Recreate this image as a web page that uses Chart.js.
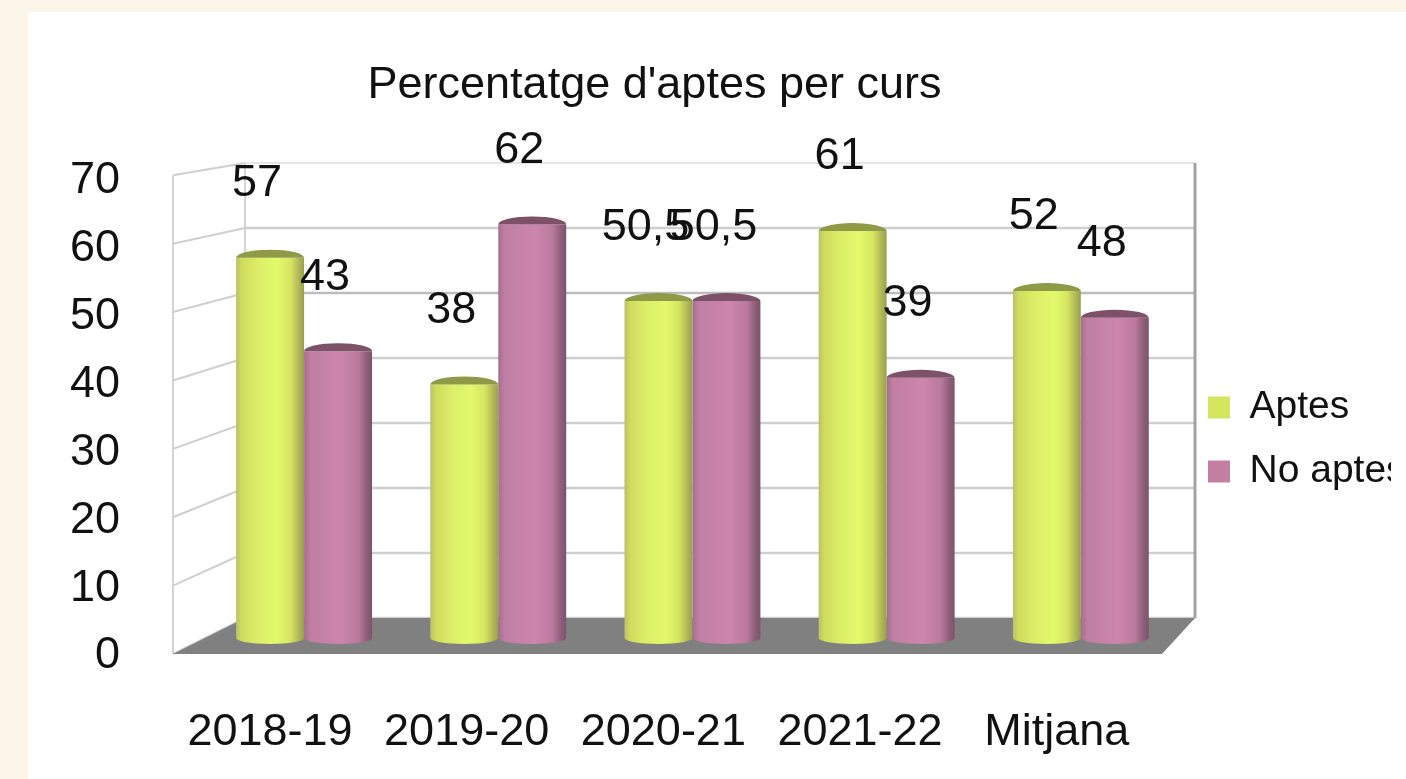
<!DOCTYPE html>
<html><head><meta charset="utf-8">
<script src="https://cdn.jsdelivr.net/npm/chart.js@4"></script>
<style>
html,body{margin:0;padding:0;width:1406px;height:779px;overflow:hidden;background:#fcf6ea}
#paper{position:absolute;left:28px;top:12px;right:0;bottom:0;background:#fff}
#c{position:absolute;left:0;top:0}
</style></head><body>
<div id="paper"></div>
<canvas id="c" width="1391" height="779" style="width:1391px;height:779px"></canvas>
<script>
const categories=["2018-19","2019-20","2020-21","2021-22","Mitjana"];
const aptes=[57,38,50.5,61,52];
const noAptes=[43,62,50.5,39,48];
const titleText="Percentatge d'aptes per curs";
const seriesNames=["Aptes","No aptes"];
const axisValues=[0,10,20,30,40,50,60,70];
const FONT="'Liberation Sans',Arial,sans-serif";
const yellowStops=[[0,'#b9c06c'],[0.08,'#cfdc5c'],[0.3,'#dcec68'],[0.6,'#e3f96c'],[0.8,'#d6e560'],[0.93,'#aeb558'],[1,'#98a04c']];
const pinkStops=[[0,'#a56f8d'],[0.1,'#c07fa4'],[0.55,'#cd85ab'],[0.8,'#b97a9c'],[0.92,'#8f5f7a'],[1,'#7f5269']];
const capColors=['#8f9a47','#7d5168'];
const stops=[yellowStops,pinkStops];
const intTicks=ax=>{ax.ticks=categories.map((_,i)=>({value:i}));};

const scene={
 id:'scene',
 afterLayout(chart){
  const t=chart.titleBlock; t.left-=41; t.right-=41;
  const l=chart.legend;
  l.left=1183; l.right=1391; l.top=363; l.bottom=363+180;
 },
 beforeDatasetsDraw(chart){
  const {ctx,chartArea:a,scales}=chart;
  const f=scales.yWall,b=scales.yBack;
  const fx=a.left,bx=245,rx=a.right,frx=1162;
  ctx.save();
  ctx.lineWidth=2;ctx.strokeStyle='#d4d4d4';
  ctx.beginPath();ctx.moveTo(fx,f.getPixelForValue(70));ctx.lineTo(fx,f.getPixelForValue(0));ctx.stroke();
  ctx.beginPath();ctx.moveTo(bx,b.getPixelForValue(70));ctx.lineTo(bx,b.getPixelForValue(0));ctx.stroke();
  axisValues.forEach(v=>{
   const yb=b.getPixelForValue(v),yf=f.getPixelForValue(v);
   ctx.strokeStyle=v===70?'#e6e6e6':(v===50?'#bdbdbd':'#cfcfcf');
   ctx.lineWidth=v===70?2:2.5;
   ctx.beginPath();ctx.moveTo(bx,yb);ctx.lineTo(rx,yb);ctx.stroke();
   ctx.strokeStyle='#cfcfcf';ctx.lineWidth=2;
   ctx.beginPath();ctx.moveTo(fx,yf);ctx.lineTo(bx,yb);ctx.stroke();
  });
  ctx.strokeStyle='#a2a2a2';ctx.lineWidth=3;
  ctx.beginPath();ctx.moveTo(rx,b.getPixelForValue(70));ctx.lineTo(rx,b.getPixelForValue(0));ctx.stroke();
  ctx.fillStyle='#808080';
  ctx.beginPath();
  ctx.moveTo(fx,f.getPixelForValue(0));ctx.lineTo(bx,b.getPixelForValue(0));
  ctx.lineTo(rx,b.getPixelForValue(0));ctx.lineTo(frx,f.getPixelForValue(0));ctx.closePath();ctx.fill();
  ctx.restore();
 },
 beforeDatasetDraw(chart,args){
  const {ctx}=chart;
  args.meta.data.forEach(el=>{
   const g=ctx.createLinearGradient(el.x-el.width/2,0,el.x+el.width/2,0);
   stops[args.index].forEach(s=>g.addColorStop(s[0],s[1]));
   el.options=Object.assign({},el.options,{backgroundColor:g});
   el.$grad=g;
  });
 },
 afterDatasetDraw(chart,args){
  const {ctx}=chart;
  ctx.save();
  args.meta.data.forEach(el=>{
   const rx=el.width/2;
   ctx.fillStyle=el.$grad;
   ctx.beginPath();ctx.ellipse(el.x,el.base,rx,6,0,0,Math.PI);ctx.fill();
   ctx.fillStyle=capColors[args.index];
   ctx.beginPath();ctx.ellipse(el.x,el.y,rx,8,0,Math.PI,2*Math.PI);ctx.fill();
  });
  ctx.restore();
 },
 afterDatasetsDraw(chart){
  const {ctx}=chart;
  ctx.save();
  ctx.font='45px '+FONT;ctx.fillStyle='#111';ctx.textAlign='center';ctx.textBaseline='middle';
  chart.data.datasets.forEach((ds,i)=>{
   chart.getDatasetMeta(i).data.forEach((el,j)=>{
    ctx.fillText(String(ds.data[j].y).replace('.',','),el.x-13,el.y-74);
   });
  });
  ctx.restore();
 }
};

new Chart(document.getElementById('c'),{
 type:'bar',
 data:{datasets:[
  {label:seriesNames[0],data:aptes.map((v,i)=>({x:i,y:v})),backgroundColor:'#d4e55e',borderWidth:0,xAxisID:'x',yAxisID:'y'},
  {label:seriesNames[1],data:noAptes.map((v,i)=>({x:i,y:v})),backgroundColor:'#c47fa3',borderWidth:0,xAxisID:'x',yAxisID:'y'}
 ]},
 plugins:[scene],
 options:{
  responsive:false,animation:false,
  categoryPercentage:0.7,barPercentage:1,
  layout:{padding:0},
  plugins:{
   title:{display:true,text:titleText,color:'#111',font:{family:FONT,size:45,weight:'normal'},padding:{top:59,bottom:50}},
   legend:{display:true,position:'right',maxWidth:196,align:'start',
    labels:{boxWidth:22,boxHeight:22,padding:25,color:'#111',font:{family:FONT,size:39}}},
   tooltip:{enabled:false}
  },
  scales:{
   x:{type:'linear',display:false,min:-0.675,max:4.588,offset:false,afterBuildTicks:intTicks},
   xFront:{type:'linear',position:'bottom',min:-0.493,max:4.703,offset:false,
    grid:{display:false},border:{display:false},
    afterBuildTicks:intTicks,
    afterFit(ax){ax.height=125;},
    ticks:{color:'#111',autoSkip:false,maxRotation:0,padding:44,font:{family:FONT,size:45},callback:v=>categories[v]}},
   y:{type:'linear',display:false,min:-2.399,max:71.2},
   yBack:{type:'linear',display:false,min:-5.538,max:70},
   yWall:{type:'linear',display:false,min:0,max:71.8},
   yFront:{type:'linear',position:'left',min:0.295,max:72.6,
    grid:{display:false},border:{display:false},
    afterBuildTicks(ax){ax.ticks=axisValues.map(v=>({value:v}));},
    afterFit(ax){ax.width=173;},
    ticks:{color:'#111',padding:45,font:{family:FONT,size:45}}}
  }
 }
});
</script>
</body></html>
